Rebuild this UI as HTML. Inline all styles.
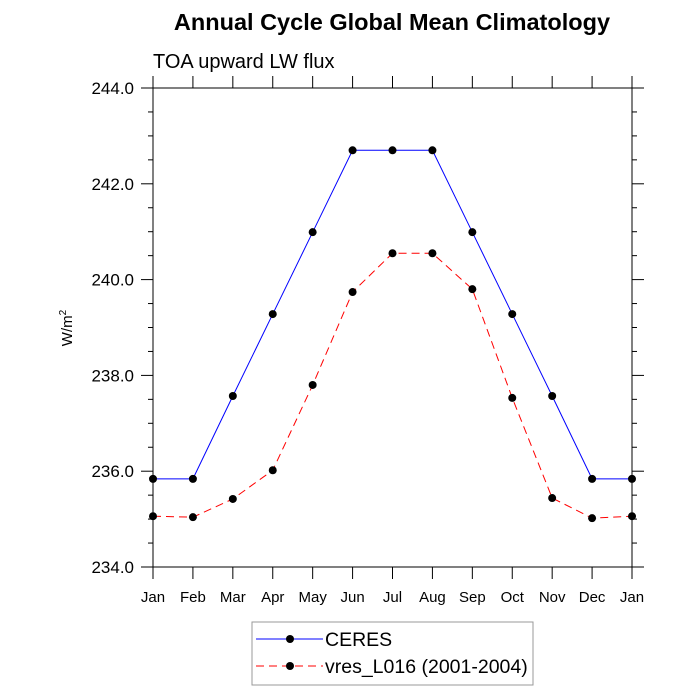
<!DOCTYPE html>
<html><head><meta charset="utf-8"><style>body{margin:0;background:#fff}svg{display:block}</style></head>
<body>
<svg id="c" width="700" height="700" xmlns="http://www.w3.org/2000/svg" font-family="Liberation Sans, sans-serif">
<text x="392" y="30" text-anchor="middle" font-size="23.5" font-weight="bold">Annual Cycle Global Mean Climatology</text>
<text x="153" y="68" font-size="20">TOA upward LW flux</text>
<text transform="translate(72,328) rotate(-90)" text-anchor="middle" font-size="15">W/m<tspan dy="-6" font-size="10">2</tspan></text>
<g id="axes"></g><g id="series"></g>
<g>
<rect x="252" y="622" width="281" height="63" fill="#fff" stroke="#999"/>
<g><line x1="256" y1="639" x2="323" y2="639" stroke="#00f"/><circle cx="290" cy="639" r="4" fill="#000"/><text x="325" y="646" font-size="19.5">CERES</text></g>
<g><line x1="256" y1="666" x2="323" y2="666" stroke="#f00" stroke-dasharray="8,5"/><circle cx="290" cy="666" r="4" fill="#000"/><text x="325" y="673" font-size="19.5">vres_L016 (2001-2004)</text></g>
</g>
</svg>
<script>
const months=["Jan","Feb","Mar","Apr","May","Jun","Jul","Aug","Sep","Oct","Nov","Dec","Jan"];
const ceres=[235.84,235.84,237.57,239.28,240.99,242.7,242.7,242.7,240.99,239.28,237.57,235.84,235.84];
const vres=[235.06,235.04,235.42,236.02,237.8,239.74,240.55,240.55,239.8,237.53,235.44,235.02,235.06];
const yTicks=[234,236,238,240,242,244];
const NS="http://www.w3.org/2000/svg";
const L=153,R=632,T=88,B=567,ymin=234,ymax=244;
const xs=i=>L+(R-L)*i/(months.length-1);
const ys=v=>B-(v-ymin)/(ymax-ymin)*(B-T);
function mk(tag,at,parent){const e=document.createElementNS(NS,tag);for(const k in at)e.setAttribute(k,at[k]);parent.appendChild(e);return e;}
const ax=document.getElementById('axes');
const fr=mk('rect',{x:L,y:T,width:R-L,height:B-T,fill:'none',stroke:'#000','stroke-width':1},ax);


months.forEach((m,i)=>{const x=xs(i);
mk('line',{x1:x,y1:B,x2:x,y2:B+12,stroke:'#000'},ax);
mk('line',{x1:x,y1:T,x2:x,y2:T-12,stroke:'#000'},ax);
const t=mk('text',{x:x,y:B+35,'text-anchor':'middle','font-size':15},ax);t.textContent=m;

});
for(let v=ymin;v<=ymax+1e-9;v+=0.5){const y=ys(v);const maj=Math.abs(v/2-Math.round(v/2))<1e-9;const len=maj?12:5;
mk('line',{x1:L,y1:y,x2:L-len,y2:y,stroke:'#000'},ax);
mk('line',{x1:R,y1:y,x2:R+len,y2:y,stroke:'#000'},ax);}
yTicks.forEach(v=>{const t=mk('text',{x:L-19,y:ys(v)+6,'text-anchor':'end','font-size':17},ax);t.textContent=v.toFixed(1);

});
const sg=document.getElementById('series');
function series(d,color,dash,name){
const p=mk('polyline',{points:d.map((v,i)=>xs(i)+','+ys(v)).join(' '),fill:'none',stroke:color,'stroke-width':1,'stroke-dasharray':dash},sg);


d.forEach((v,i)=>{const c=mk('circle',{cx:xs(i),cy:ys(v),r:4,fill:'#000'},sg);

});}
series(ceres,'#00f','none','ceres');
series(vres,'#f00','8,5','vres');
</script>
</body></html>
